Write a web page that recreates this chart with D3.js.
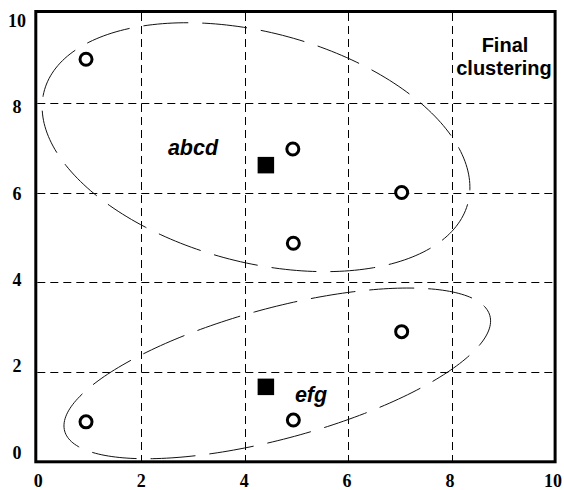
<!DOCTYPE html>
<html>
<head>
<meta charset="utf-8">
<script src="https://cdn.jsdelivr.net/npm/d3@7"></script>
<style>
  html, body { margin: 0; padding: 0; background: #fff; }
  svg { display: block; }
</style>
</head>
<body>
<svg id="chart" width="564" height="490"></svg>
<script>
// Axis ticks
const xTicks = [0, 2, 4, 6, 8, 10];
const yTicks = [0, 2, 4, 6, 8, 10];

// Objects of cluster "abcd" and cluster "efg"
const abcdX = [0.94, 4.93, 7.03, 4.94];
const abcdY = [8.97, 6.97, 6.0, 4.87];
const efgX = [0.94, 4.94, 7.03];
const efgY = [0.89, 0.93, 2.9];

// Cluster centres
const centreX = [4.41, 4.41];
const centreY = [6.61, 1.67];

// Cluster names
const clusterNames = ["abcd", "efg"];
const nameX = [2.52, 4.97];
const nameY = [6.84, 1.34];

// Cluster outlines (ellipses in data units: centre, semi-axes, tilt in degrees)
const hullCx = [4.22, 4.63];
const hullCy = [7.01, 1.97];
const hullRx = [4.28, 4.30];
const hullRy = [2.53, 1.437];
const hullTilt = [-19.2, 17.9];

const svg = d3.select("#chart");

const x = d3.scaleLinear().domain([0, 10]).range([37.3, 555.6]);
const y = d3.scaleLinear().domain([0, 10]).range([461.8, 13]);
// tick labels sit slightly inside the frame
const xLab = d3.scaleLinear().domain([0, 10]).range([38.3, 553]);
const yLab = d3.scaleLinear().domain([0, 10]).range([452.5, 20.8]);

// dashed grid
const grid = svg.append("g")
  .attr("stroke", "#000")
  .attr("stroke-width", 1)
  .attr("stroke-dasharray", "8,5");
grid.selectAll("line.v")
  .data(xTicks.filter(d => d > 0 && d < 10))
  .join("line")
  .attr("class", "v")
  .attr("x1", d => Math.round(x(d)) + 0.5).attr("x2", d => Math.round(x(d)) + 0.5)
  .attr("y1", y(10)).attr("y2", y(0));
grid.selectAll("line.h")
  .data(yTicks.filter(d => d > 0 && d < 10))
  .join("line")
  .attr("class", "h")
  .attr("y1", d => Math.round(y(d)) + 0.5).attr("y2", d => Math.round(y(d)) + 0.5)
  .attr("x1", x(0)).attr("x2", x(10));

// cluster outlines
const line = d3.line()
  .x(p => x(p[0]))
  .y(p => y(p[1]))
  .curve(d3.curveLinearClosed);

function ellipsePoints(i) {
  const a = hullTilt[i] * Math.PI / 180;
  const ca = Math.cos(a), sa = Math.sin(a);
  return d3.range(0, 240).map(k => {
    const t = Math.PI - (k / 240) * 2 * Math.PI;
    const ex = hullRx[i] * Math.cos(t), ey = hullRy[i] * Math.sin(t);
    return [hullCx[i] + ex * ca - ey * sa, hullCy[i] + ex * sa + ey * ca];
  });
}

svg.append("g")
  .selectAll("path")
  .data(hullCx.map((_, i) => i))
  .join("path")
  .attr("d", i => line(ellipsePoints(i)))
  .attr("fill", "none")
  .attr("stroke", "#111")
  .attr("stroke-width", 1)
  .attr("stroke-dasharray", "45,14");

// frame
svg.append("rect")
  .attr("x", x(0) - 1.5)
  .attr("y", y(10) - 1.5)
  .attr("width", x(10) - x(0) + 1)
  .attr("height", y(0) - y(10) + 1.5)
  .attr("fill", "none")
  .attr("stroke", "#000")
  .attr("stroke-width", 3);

// objects
const objects = abcdX.map((d, i) => [d, abcdY[i]])
  .concat(efgX.map((d, i) => [d, efgY[i]]));
svg.append("g")
  .selectAll("circle")
  .data(objects)
  .join("circle")
  .attr("cx", d => x(d[0]))
  .attr("cy", d => y(d[1]))
  .attr("r", 6)
  .attr("fill", "#fff")
  .attr("stroke", "#000")
  .attr("stroke-width", 3);

// centres
const sq = 16.5;
svg.append("g")
  .selectAll("rect")
  .data(centreX.map((d, i) => [d, centreY[i]]))
  .join("rect")
  .attr("x", d => x(d[0]) - sq / 2)
  .attr("y", d => y(d[1]) - sq / 2)
  .attr("width", sq)
  .attr("height", sq)
  .attr("fill", "#000");

// cluster names
svg.append("g")
  .selectAll("text")
  .data(clusterNames)
  .join("text")
  .attr("x", (d, i) => x(nameX[i]))
  .attr("y", (d, i) => y(nameY[i]))
  .attr("font-family", "'Liberation Sans', Arial, sans-serif")
  .attr("font-weight", "bold")
  .attr("font-style", "italic")
  .attr("font-size", 21.5)
  .attr("fill", "#000")
  .text(d => d);

// title block
const title = svg.append("text")
  .attr("font-family", "'Liberation Sans', Arial, sans-serif")
  .attr("font-weight", "bold")
  .attr("font-size", 20)
  .attr("text-anchor", "middle")
  .attr("fill", "#000");
title.append("tspan").attr("x", 505).attr("y", 51.5).text("Final");
title.append("tspan").attr("x", 504).attr("y", 75).text("clustering");

// tick labels
const tickFont = { family: "'Liberation Serif', 'Times New Roman', serif", size: 18 };
svg.append("g")
  .selectAll("text")
  .data(xTicks)
  .join("text")
  .attr("x", d => xLab(d))
  .attr("y", 486.5)
  .attr("text-anchor", "middle")
  .attr("font-family", tickFont.family)
  .attr("font-weight", "bold")
  .attr("font-size", tickFont.size)
  .text(d => d);
svg.append("g")
  .selectAll("text")
  .data(yTicks)
  .join("text")
  .attr("x", 17)
  .attr("y", d => yLab(d))
  .attr("dy", "0.35em")
  .attr("text-anchor", "middle")
  .attr("font-family", tickFont.family)
  .attr("font-weight", "bold")
  .attr("font-size", tickFont.size)
  .text(d => d);
</script>
</body>
</html>
